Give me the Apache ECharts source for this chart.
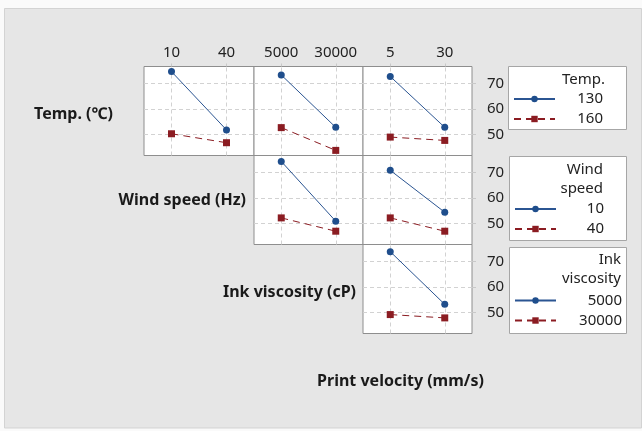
<!DOCTYPE html>
<html>
<head>
<meta charset="utf-8">
<script src="https://cdn.jsdelivr.net/npm/echarts@6/dist/echarts.min.js"></script>
<style>
html,body{margin:0;padding:0;background:#fafafa;}
#c{width:642px;height:431px;}
</style>
</head>
<body>
<div id="c"></div>
<script>
// ---- categories (x factors) ----
const windCats = ['10', '40'];
const inkCats = ['5000', '30000'];
const velCats = ['5', '30'];
// ---- trace factor levels (legend) ----
const tempLevels = ['130', '160'];
const windLevels = ['10', '40'];
const inkLevels = ['5000', '30000'];
// ---- y tick labels ----
const yTicks = [50, 60, 70];
// ---- means ----
// row: Temp.
const temp130_wind = [74.6, 51.8];
const temp160_wind = [50.3, 46.8];
const temp130_ink = [73.3, 52.8];
const temp160_ink = [52.7, 43.8];
const temp130_vel = [72.7, 52.8];
const temp160_vel = [49.0, 47.7];
// row: Wind speed
const wind10_ink = [74.3, 50.9];
const wind40_ink = [52.2, 47.0];
const wind10_vel = [70.8, 54.4];
const wind40_vel = [52.2, 47.0];
// row: Ink viscosity
const ink5000_vel = [73.8, 53.2];
const ink30000_vel = [49.2, 47.9];

const FONT = '"Noto Sans", "Open Sans", sans-serif';
const BLUE = '#1f4e8c';
const BLUE_LINE = '#2b5592';
const RED = '#8b1c22';
const GRIDC = '#d2d2d2';
const YMIN = 41.8, YMAX = 76.6;

const cols = [144, 254, 363];
const colW = [110, 109, 109];
const rows = [66.5, 155.5, 244.5];
const rowH = 89;

// panels: [row, col, cats, seriesA, seriesB, nameA, nameB]
const panels = [
  [0, 0, windCats, temp130_wind, temp160_wind, tempLevels[0], tempLevels[1]],
  [0, 1, inkCats, temp130_ink, temp160_ink, tempLevels[0], tempLevels[1]],
  [0, 2, velCats, temp130_vel, temp160_vel, tempLevels[0], tempLevels[1]],
  [1, 1, inkCats, wind10_ink, wind40_ink, windLevels[0], windLevels[1]],
  [1, 2, velCats, wind10_vel, wind40_vel, windLevels[0], windLevels[1]],
  [2, 2, velCats, ink5000_vel, ink30000_vel, inkLevels[0], inkLevels[1]]
];

const grid = [], xAxis = [], yAxis = [], series = [];
panels.forEach((p, i) => {
  const [r, c, cats, a, b, na, nb] = p;
  grid.push({
    left: cols[c], top: rows[r], width: colW[c], height: rowH,
    show: true, backgroundColor: '#ffffff', borderColor: '#8e8e8e', borderWidth: 1
  });
  xAxis.push({
    type: 'category', gridIndex: i, data: cats, position: 'top',
    boundaryGap: true,
    axisLine: {show: false},
    axisTick: {show: r === 0, alignWithLabel: true, interval: 0, length: 3, lineStyle: {color: '#c8c8c8'}},
    axisLabel: {show: r === 0, interval: 0, hideOverlap: false, margin: 6, fontFamily: FONT, fontSize: 15, color: '#222'},
    splitLine: {show: false}
  });
  yAxis.push({
    type: 'value', gridIndex: i, min: YMIN, max: YMAX, position: 'right',
    axisLine: {show: false},
    axisTick: {show: c === 2, customValues: yTicks, length: 4, lineStyle: {color: '#c8c8c8'}},
    axisLabel: {show: c === 2, customValues: yTicks, margin: 15, fontFamily: FONT, fontSize: 15, color: '#222'},
    splitLine: {show: true, lineStyle: {color: GRIDC, type: [4, 3], width: 1}}
  });
  series.push({
    type: 'line', name: na, xAxisIndex: i, yAxisIndex: i, data: a,
    symbol: 'circle', symbolSize: 7, z: 3,
    lineStyle: {color: BLUE_LINE, width: 1, type: 'solid'},
    itemStyle: {color: BLUE},
    animation: false, silent: true,
    markLine: {
      silent: true, symbol: 'none', z: 1, animation: false,
      label: {show: false},
      lineStyle: {color: GRIDC, type: [4, 3], width: 1},
      data: [{xAxis: cats[0]}, {xAxis: cats[1]}]
    }
  });
  series.push({
    type: 'line', name: nb, xAxisIndex: i, yAxisIndex: i, data: b,
    symbol: 'rect', symbolSize: 7, z: 3,
    lineStyle: {color: RED, width: 1, type: [7, 5]},
    itemStyle: {color: RED},
    animation: false, silent: true
  });
});

function legendCfg(data, left, top, w) {
  return {
    data: data, left: left, top: top, orient: 'vertical', padding: 0,
    itemWidth: 41, itemHeight: 8, itemGap: 5, selectedMode: false,
    formatter: n => '{a|' + n + '}',
    textStyle: {rich: {a: {width: w, align: 'right', fontSize: 15, fontFamily: FONT, color: '#222'}}}
  };
}

const legend = [
  legendCfg(tempLevels, 513, 91.5, 43),
  legendCfg(windLevels, 514, 201.5, 43),
  legendCfg(inkLevels, 514, 293, 61)
];

function txt(x, y, s, opts) {
  return Object.assign({
    type: 'text', x: x, y: y, silent: true,
    style: Object.assign({text: s, fontFamily: FONT, fontSize: 15, fill: '#222', align: 'right', verticalAlign: 'middle'}, opts || {})
  });
}

const BOLD = {fontWeight: 'bold', fontSize: 16, fill: '#1a1a1a'};

const graphic = [
  {type: 'rect', shape: {x: 4.5, y: 8.5, width: 637, height: 419.5}, style: {fill: '#e6e6e6', stroke: '#d3d3d3', lineWidth: 1}, z: -10, silent: true},
  // legend boxes
  {type: 'rect', shape: {x: 508.5, y: 66.5, width: 118, height: 63}, style: {fill: '#fff', stroke: '#a6a6a6', lineWidth: 1}, z: -5, silent: true},
  {type: 'rect', shape: {x: 509.5, y: 156.5, width: 117, height: 84}, style: {fill: '#fff', stroke: '#a6a6a6', lineWidth: 1}, z: -5, silent: true},
  {type: 'rect', shape: {x: 509.5, y: 247.5, width: 117, height: 86}, style: {fill: '#fff', stroke: '#a6a6a6', lineWidth: 1}, z: -5, silent: true},
  // legend titles
  txt(605, 80, 'Temp.'),
  txt(603, 170, 'Wind'),
  txt(603, 188.5, 'speed'),
  txt(621, 259.5, 'Ink'),
  txt(621, 278.5, 'viscosity'),
  // factor labels
  txt(113, 114, 'Temp. (℃)', BOLD),
  txt(246, 200, 'Wind speed (Hz)', BOLD),
  txt(356, 292, 'Ink viscosity (cP)', BOLD),
  txt(400.5, 381, 'Print velocity (mm/s)', Object.assign({}, BOLD, {align: 'center'}))
];

const chart = echarts.init(document.getElementById('c'), null, {renderer: 'canvas'});
chart.setOption({
  backgroundColor: '#fafafa',
  animation: false,
  grid, xAxis, yAxis, series, legend, graphic
});
</script>
</body>
</html>
